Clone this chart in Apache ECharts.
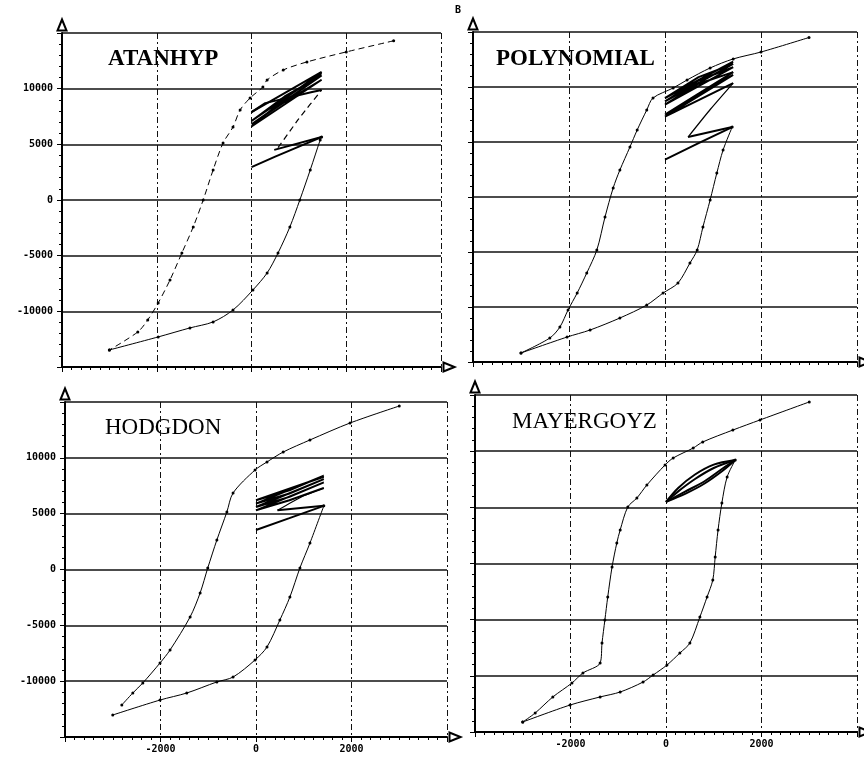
<!DOCTYPE html>
<html>
<head>
<meta charset="utf-8">
<script src="https://cdn.jsdelivr.net/npm/echarts@6/dist/echarts.min.js"></script>
<style>
html,body{margin:0;padding:0;background:#fff}
#chart{width:864px;height:765px}
</style>
</head>
<body>
<div id="chart"></div>
<script>
// tick labels
var xTickLabels = [-2000, 0, 2000];
var yTickLabels = [-10000, -5000, 0, 5000, 10000];
var panelNames = ['ATANHYP', 'POLYNOMIAL', 'HODGDON', 'MAYERGOYZ'];

// ATANHYP  [H, B]
var atanDesc = [[3000,14300],[2000,13300],[1170,12400],[670,11680],[330,10780],[240,10150],[-30,9160],[-240,8090],[-390,6560],[-600,5120],[-810,2700],[-1020,0],[-1230,-2420],[-1470,-4760],[-1720,-7180],[-1970,-9250],[-2190,-10770],[-2400,-11850],[-3000,-13470]];
var atanAsc = [[-3000,-13470],[-1970,-12300],[-1300,-11490],[-810,-10950],[-390,-9880],[30,-8080],[330,-6550],[560,-4760],[810,-2420],[1020,0],[1240,2700],[1450,5390],[1480,5660]];
var atanMinor = [
    [[1480,5660],[480,4500]],
    [[0,2960],[500,3900],[1000,4800],[1480,5660]],
    [[1480,9880],[1280,9700],[290,8700],[0,7900]],
    [[0,7900],[1480,11500],[700,9100],[0,6600],[1480,10800],[700,8800],[0,6800],[1480,11200],[700,9300],[0,7100],[1480,11400]]
];
var atanRise = [[560,4700],[1000,7300],[1480,9880]];

// POLYNOMIAL
var polyDesc = [[3000,14500],[2000,13180],[1420,12550],[940,11730],[460,10640],[170,9910],[-250,9000],[-380,7910],[-580,6090],[-730,4550],[-940,2450],[-1080,820],[-1250,-1820],[-1420,-4820],[-1630,-6910],[-1830,-8730],[-2020,-10270],[-2190,-11820],[-2400,-12820],[-3000,-14180]];
var polyAsc = [[-3000,-14180],[-2040,-12730],[-1560,-12090],[-940,-11000],[-380,-9820],[-40,-8730],[270,-7820],[520,-6000],[670,-4820],[790,-2730],[940,-270],[1080,2180],[1210,4270],[1400,6360]];
var polyMinor = [
    [[1400,6360],[480,5450]],
    [[0,3400],[700,4900],[1400,6360]],
    [[1420,10360],[700,8800],[0,7300],[1420,11100],[700,9400],[0,7500],[1420,11350]],
    [[1420,11350],[700,10300],[0,8400],[1420,11800],[700,10600],[0,8700],[1420,12100],[700,10900],[0,9000],[1420,12300]]
];
var polyRise = [[480,5450],[950,8000],[1420,10360]];

// HODGDON
var hodDesc = [[3000,14640],[1970,13120],[1130,11600],[570,10520],[230,9630],[-20,8910],[-480,6850],[-610,5150],[-820,2640],[-1010,140],[-1170,-2100],[-1380,-4250],[-1800,-7210],[-2010,-8370],[-2370,-10160],[-2580,-11060],[-2810,-12130]];
var hodAsc = [[-3000,-13030],[-2010,-11690],[-1450,-11060],[-820,-10070],[-480,-9630],[-20,-8100],[230,-6940],[500,-4520],[710,-2460],[920,140],[1130,2370],[1420,5700]];
var hodMinor = [
    [[1420,5700],[450,5300]],
    [[0,3540],[700,4600],[1420,5700]],
    [[1420,7300],[700,6200],[0,5300],[1420,7800],[700,6500],[0,5600],[1420,8100],[700,6800],[0,5900],[1420,8400],[700,7100],[0,6200],[1420,8300]]
];
var hodRise = [[450,5300],[950,6500],[1420,7300]];

// MAYERGOYZ
var mayDesc = [[3000,14380],[1970,12780],[1400,11880],[770,10820],[570,10280],[150,9390],[-20,8770],[-400,6990],[-610,5830],[-800,5030],[-960,2980],[-1030,1830],[-1130,-310],[-1220,-2980],[-1280,-5030],[-1340,-7080],[-1380,-8860],[-1740,-9750],[-1970,-10640],[-2370,-11880],[-2740,-13310],[-3000,-14110]];
var mayAsc = [[-3000,-14110],[-2010,-12600],[-1380,-11880],[-960,-11440],[-480,-10550],[-270,-9930],[20,-9040],[290,-7970],[500,-7080],[710,-4760],[860,-2980],[980,-1470],[1030,580],[1090,2980],[1170,5390],[1280,7700],[1450,9210]];
var mayMinor = [
    [[1450,9210],[1000,8800],[600,7900],[250,6700],[0,5480]],
    [[0,5480],[400,6200],[800,7100],[1200,8300],[1450,9210]],
    [[1450,9210],[1000,8500],[600,7500],[250,6400],[0,5480]],
    [[0,5480],[400,6400],[800,7300],[1200,8500],[1450,9210]]
];
var mayRise = [];

var chart = echarts.init(document.getElementById('chart'));

var grids = [
    {left: 62, top: 33, width: 379, height: 334},
    {left: 473, top: 32, width: 384, height: 330},
    {left: 65, top: 402, width: 382, height: 335},
    {left: 475, top: 395, width: 382, height: 337}
];
var panels = [
    {desc: atanDesc, asc: atanAsc, minor: atanMinor, rise: atanRise, dashDesc: true},
    {desc: polyDesc, asc: polyAsc, minor: polyMinor, rise: polyRise},
    {desc: hodDesc, asc: hodAsc, minor: hodMinor, rise: hodRise},
    {desc: mayDesc, asc: mayAsc, minor: mayMinor, rise: mayRise, smoothMinor: true}
];
var titlePos = [[108, 62, 'bold'], [496, 62, 'bold'], [105, 430, 'normal'], [512, 424, 'normal']];

var axisLine = {
    show: true,
    onZero: false,
    symbol: ['none', 'emptyTriangle'],
    symbolSize: [9, 11],
    symbolOffset: [0, 8],
    lineStyle: {color: '#000', width: 2}
};

var xAxes = [], yAxes = [], series = [], graphics = [];
for (var i = 0; i < 4; i++) {
    xAxes.push({
        gridIndex: i, type: 'value', min: -4000, max: 4000, interval: 2000,
        axisLine: axisLine,
        axisTick: {show: true, length: 5, lineStyle: {color: '#000', width: 1}},
        minorTick: {show: true, splitNumber: 10, length: 3, lineStyle: {color: '#000'}},
        splitLine: {show: true, lineStyle: {color: '#111', width: 1, type: [6, 3, 2, 3]}},
        axisLabel: {
            show: i >= 2, margin: 7,
            fontFamily: 'DejaVu Sans Mono', fontSize: 10, fontWeight: 'bold', color: '#000',
            formatter: function (v) { return xTickLabels.indexOf(v) >= 0 ? String(v) : ''; }
        }
    });
    yAxes.push({
        gridIndex: i, type: 'value', min: -15000, max: 15000, interval: 5000,
        axisLine: axisLine,
        axisTick: {show: true, length: 5, lineStyle: {color: '#000', width: 1}},
        minorTick: {show: true, splitNumber: 5, length: 3, lineStyle: {color: '#000'}},
        splitLine: {show: true, lineStyle: {color: '#111', width: 1.5}},
        axisLabel: {
            show: i % 2 === 0, margin: 9,
            fontFamily: 'DejaVu Sans Mono', fontSize: 10, fontWeight: 'bold', color: '#000',
            formatter: function (v) { return yTickLabels.indexOf(v) >= 0 ? String(v) : ''; }
        }
    });

    var p = panels[i];
    series.push({
        type: 'line', xAxisIndex: i, yAxisIndex: i, data: p.desc,
        symbol: 'circle', symbolSize: 3, showSymbol: true, smooth: 0.3,
        itemStyle: {color: '#000'},
        lineStyle: {color: '#000', width: 1, type: p.dashDesc ? [6, 4] : 'solid'},
        animation: false
    });
    series.push({
        type: 'line', xAxisIndex: i, yAxisIndex: i, data: p.asc,
        symbol: 'circle', symbolSize: 3, showSymbol: true, smooth: 0.3,
        itemStyle: {color: '#000'},
        lineStyle: {color: '#000', width: 1},
        animation: false
    });
    p.minor.forEach(function (strand) {
        series.push({
            type: 'line', xAxisIndex: i, yAxisIndex: i, data: strand,
            showSymbol: false, smooth: p.smoothMinor ? 0.3 : false,
            lineStyle: {color: '#000', width: 2},
            animation: false
        });
    });
    if (p.rise.length) {
        series.push({
            type: 'line', xAxisIndex: i, yAxisIndex: i, data: p.rise,
            showSymbol: false, smooth: 0.2,
            lineStyle: {color: '#000', width: 1.2, type: p.dashDesc ? [6, 4] : 'solid'},
            animation: false
        });
    }

    graphics.push({
        type: 'text', left: titlePos[i][0], top: titlePos[i][1] - 14,
        style: {
            text: panelNames[i], fill: '#000',
            font: titlePos[i][2] + ' 23px "Liberation Serif"'
        }
    });
}
graphics.push({
    type: 'text', left: 455, top: 5,
    style: {text: 'B', fill: '#000', font: 'bold 10px "DejaVu Sans Mono"'}
});

chart.setOption({
    backgroundColor: '#fff',
    animation: false,
    grid: grids,
    xAxis: xAxes,
    yAxis: yAxes,
    series: series,
    graphic: graphics
});
</script>
</body>
</html>
